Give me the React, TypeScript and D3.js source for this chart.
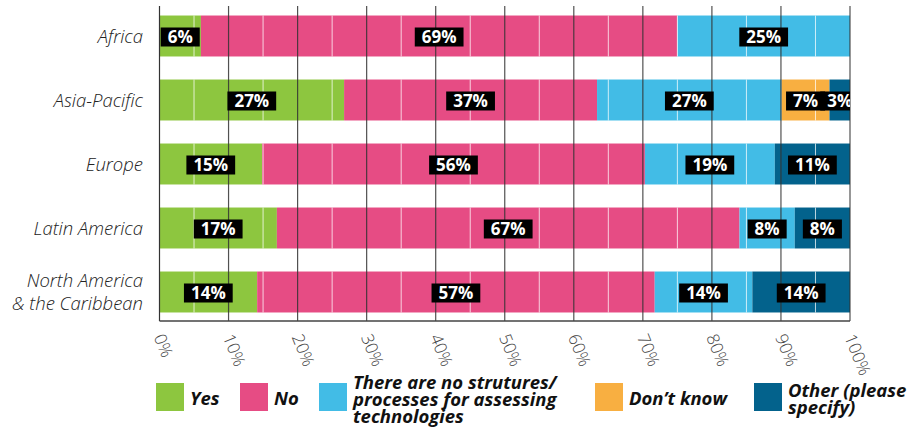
import React, { useRef, useEffect } from 'react';
import * as d3 from 'd3';

// regions (rows), top to bottom
const regions = ['Africa', 'Asia-Pacific', 'Europe', 'Latin America', 'North America\n& the Caribbean'];

// answer categories, in stacking order
const answerKeys = ['yes', 'no', 'none', 'dontKnow', 'other'];
const answerLabels = [
	'Yes',
	'No',
	'There are no strutures/\nprocesses for assessing\ntechnologies',
	'Don\u2019t know',
	'Other (please\nspecify)',
];
const answerColors = ['#8dc63f', '#e64c84', '#42bce6', '#f8af41', '#03628c'];

// percentages per region (same order as regions)
const yesValues = [6, 27, 15, 17, 14];
const noValues = [69, 37, 56, 67, 57];
const noStructureValues = [25, 27, 19, 8, 14];
const dontKnowValues = [0, 7, 0, 0, 0];
const otherValues = [0, 3, 11, 8, 14];

const xTicks = [0, 10, 20, 30, 40, 50, 60, 70, 80, 90, 100];
const xMinorTicks = [5, 15, 25, 35, 45, 55, 65, 75, 85, 95];

type Row = { region: string; [key: string]: number | string };

const App: React.FC = () => {
	const chartRef = useRef<null | HTMLDivElement>(null);

	useEffect(() => {
		if (!chartRef.current) {
			return;
		}
		d3.select(chartRef.current).selectAll('svg').remove();

		const width = 914;
		const height = 435;
		const left = 159.5;
		const right = 850;
		const top = 6;
		const bottom = 321;

		const svg = d3.select(chartRef.current)
			.append('svg')
			.attr('width', width)
			.attr('height', height)
			.style('display', 'block')
			.style('font-family', '"Open Sans", "Noto Sans", sans-serif');

		const table: Row[] = regions.map((region, i) => ({
			region,
			yes: yesValues[i],
			no: noValues[i],
			none: noStructureValues[i],
			dontKnow: dontKnowValues[i],
			other: otherValues[i],
		}));

		// rows don't always add up to 100, so stretch each to full width
		const series = d3.stack<Row>()
			.keys(answerKeys)
			.value((d, key) => d[key] as number)
			.offset(d3.stackOffsetExpand)(table);

		const x = d3.scaleLinear().domain([0, 1]).range([left, right]);
		const y = d3.scaleBand<string>()
			.domain(regions)
			.range([4, 324])
			.paddingInner(0.36)
			.paddingOuter(0.18);

		svg.append('defs')
			.append('clipPath')
			.attr('id', 'plot-clip')
			.append('rect')
			.attr('x', left)
			.attr('y', 0)
			.attr('width', right - left)
			.attr('height', bottom);

		// bars
		series.forEach((s, si) => {
			svg.append('g')
				.attr('fill', answerColors[si])
				.selectAll('rect')
				.data(s)
				.join('rect')
				.attr('x', d => x(d[0]))
				.attr('y', d => y(d.data.region))
				.attr('width', d => x(d[1]) - x(d[0]))
				.attr('height', y.bandwidth());
		});

		// faint white lines inside the bars
		const minor = svg.append('g');
		regions.forEach(r => {
			minor.selectAll(null)
				.data(xMinorTicks)
				.join('line')
				.attr('x1', d => x(d / 100))
				.attr('x2', d => x(d / 100))
				.attr('y1', y(r))
				.attr('y2', y(r) + y.bandwidth())
				.attr('stroke', '#fff')
				.attr('stroke-opacity', 0.75)
				.attr('stroke-width', 1);
		});

		// major grid lines
		svg.append('g')
			.selectAll('line')
			.data(xTicks)
			.join('line')
			.attr('x1', d => x(d / 100))
			.attr('x2', d => x(d / 100))
			.attr('y1', top)
			.attr('y2', bottom)
			.attr('stroke', '#333')
			.attr('stroke-opacity', d => (d === 0 ? 1 : 0.85))
			.attr('stroke-width', 1.2);

		// bottom axis line
		svg.append('line')
			.attr('x1', left)
			.attr('x2', right)
			.attr('y1', bottom)
			.attr('y2', bottom)
			.attr('stroke', '#444')
			.attr('stroke-width', 1.5);

		// x tick labels, rotated
		svg.append('g')
			.selectAll('text')
			.data(xTicks)
			.join('text')
			.attr('transform', d => `translate(${x(d / 100) - 6}, 337) rotate(68)`)
			.attr('font-size', 17)
			.attr('font-weight', 300)
			.attr('fill', '#444')
			.text(d => `${d}%`);

		// region labels
		const yLabels = svg.append('g')
			.attr('font-size', 18.5)
			.attr('font-style', 'italic')
			.attr('font-weight', 300)
			.attr('fill', '#222')
			.attr('text-anchor', 'end');
		regions.forEach(r => {
			const lines = r.split('\n');
			const cy = y(r) + y.bandwidth() / 2;
			const lh = 23;
			lines.forEach((line, li) => {
				yLabels.append('text')
					.attr('x', 143)
					.attr('y', cy + (li - (lines.length - 1) / 2) * lh)
					.attr('dy', '0.36em')
					.text(line);
			});
		});

		// value labels
		const labels = svg.append('g').attr('clip-path', 'url(#plot-clip)');
		series.forEach((s, si) => {
			s.forEach(d => {
				const value = d.data[answerKeys[si]] as number;
				if (!value) {
					return;
				}
				const cx = x((d[0] + d[1]) / 2);
				const cy = y(d.data.region) + y.bandwidth() / 2 + 1;
				const g = labels.append('g');
				const box = g.append('rect').attr('fill', '#000');
				const t = g.append('text')
					.attr('x', cx)
					.attr('y', cy)
					.attr('dy', '0.36em')
					.attr('text-anchor', 'middle')
					.attr('font-size', 17)
					.attr('font-weight', 700)
					.attr('fill', '#fff')
					.text(`${value}%`);
				const tw = (t.node() as SVGTextElement).getComputedTextLength();
				const bw = tw + 14;
				box.attr('x', cx - bw / 2)
					.attr('y', cy - 9.5)
					.attr('width', bw)
					.attr('height', 19);
			});
		});

		// legend
		const legendX = [156, 240, 319, 595, 754];
		const legend = svg.append('g');
		answerLabels.forEach((label, i) => {
			const lx = legendX[i];
			const item = legend.append('g');
			item.append('rect')
				.attr('x', lx)
				.attr('y', 383)
				.attr('width', 28)
				.attr('height', 28)
				.attr('fill', answerColors[i]);
			const lines = label.split('\n');
			const lh = 17;
			const firstBaseline = 405 - (lines.length - 1) * 8;
			const text = item.append('text')
				.attr('font-size', 18.5)
				.attr('font-weight', 700)
				.attr('font-style', 'italic')
				.attr('fill', '#111');
			lines.forEach((line, li) => {
				text.append('tspan')
					.attr('x', lx + 34)
					.attr('y', firstBaseline + li * lh)
					.text(line);
			});
		});
	}, []);

	return <div ref={chartRef} style={{ position: 'absolute', left: 0, top: 0 }}></div>;
};

export default App;
